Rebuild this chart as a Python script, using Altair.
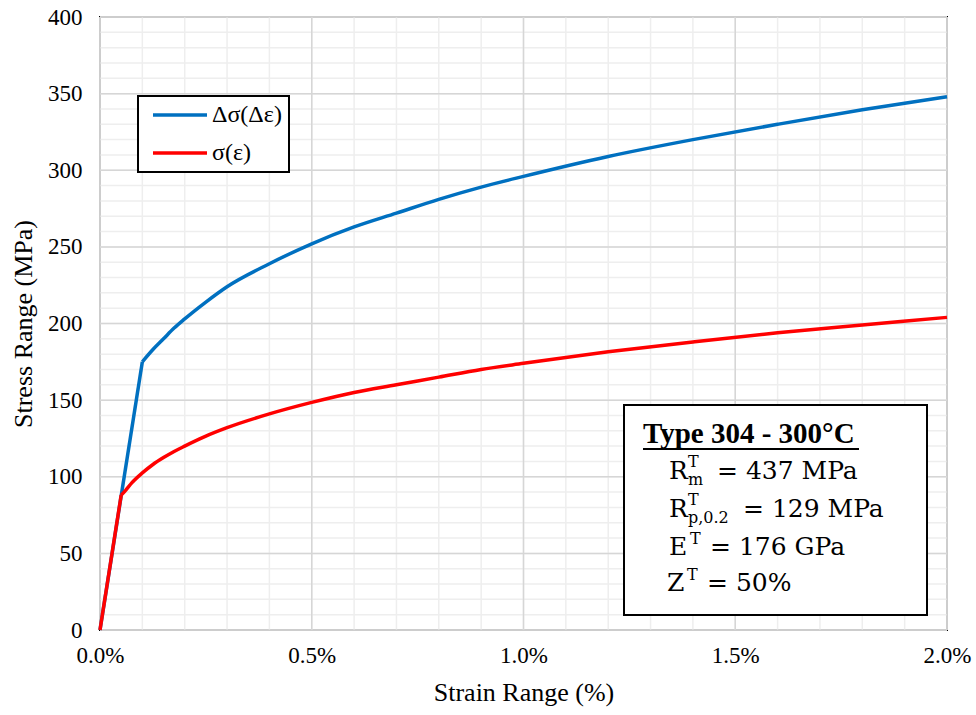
import altair as alt
import pandas as pd

# ---- data ----
series_names = ["Δσ(Δε)", "σ(ε)"]
series_colors = ["#0070c0", "#ff0000"]

# elastic (straight) part and plastic (curved) part of each curve
blue_el_strain = [0, 0.1]
blue_el_stress = [0, 175]
blue_pl_strain = [0.1, 0.125, 0.15, 0.175, 0.2, 0.25, 0.3, 0.4, 0.5, 0.6, 0.7, 0.8, 0.9,
                  1.0, 1.2, 1.4, 1.6, 1.8, 2.0]
blue_pl_stress = [175, 183, 190, 197, 203, 214, 224, 239, 252, 263, 272, 281, 289,
                  296, 309, 320, 330, 339.5, 348]

red_el_strain = [0, 0.05]
red_el_stress = [0, 88]
red_pl_strain = [0.05, 0.06, 0.075, 0.1, 0.125, 0.15, 0.175, 0.2, 0.25, 0.3, 0.4, 0.5,
                 0.6, 0.7, 0.8, 0.9, 1.0, 1.2, 1.4, 1.6, 1.8, 2.0]
red_pl_stress = [88, 91, 96, 102.5, 108, 112.5, 116.5, 120, 126.5, 132, 141, 148.5,
                 155, 160, 165, 170, 174, 181.5, 188, 194, 199, 204]

x_ticks = [0, 0.5, 1.0, 1.5, 2.0]
y_ticks = [0, 50, 100, 150, 200, 250, 300, 350, 400]
x_minor = [i / 10 for i in range(21)]
y_minor = [i * 10 for i in range(41)]


def frame(strain, stress, name, part):
    return pd.DataFrame({"strain": strain, "stress": stress, "series": name, "part": part})


df = pd.concat([
    frame(blue_el_strain, blue_el_stress, series_names[0], "el"),
    frame(blue_pl_strain, blue_pl_stress, series_names[0], "pl"),
    frame(red_el_strain, red_el_stress, series_names[1], "el"),
    frame(red_pl_strain, red_pl_stress, series_names[1], "pl"),
])

FONT = "Liberation Serif"
MATH = "DejaVu Serif"

xscale = alt.Scale(domain=[0, 2], nice=False, zero=False)
yscale = alt.Scale(domain=[0, 400], nice=False, zero=False)

x_axis = alt.Axis(values=x_ticks, title="Strain Range (%)",
                  labelExpr="format(datum.value, '.1f') + '%'",
                  labelPadding=14, titleY=70, titleBaseline="alphabetic")
y_axis = alt.Axis(values=y_ticks, title="Stress Range (MPa)",
                  labelPadding=18, titleX=-69, titleBaseline="alphabetic")

X = lambda: alt.X("strain:Q", scale=xscale, axis=x_axis)
Y = lambda: alt.Y("stress:Q", scale=yscale, axis=y_axis)

gx_minor = alt.Chart(pd.DataFrame({"strain": x_minor})).mark_rule(
    color="#eeeeee", strokeWidth=1.5).encode(x=X())
gy_minor = alt.Chart(pd.DataFrame({"stress": y_minor})).mark_rule(
    color="#eeeeee", strokeWidth=1.5).encode(y=Y())
gx_major = alt.Chart(pd.DataFrame({"strain": x_ticks})).mark_rule(
    color="#d6d6d6", strokeWidth=1.5).encode(x=X())
gy_major = alt.Chart(pd.DataFrame({"stress": y_ticks})).mark_rule(
    color="#d6d6d6", strokeWidth=1.5).encode(y=Y())

color_enc = alt.Color(
    "series:N",
    scale=alt.Scale(domain=series_names, range=series_colors),
    legend=alt.Legend(
        title=None, orient="none", legendX=38, legendY=79,
        symbolType="M-0.4,0H5", symbolSize=400, symbolStrokeWidth=3.5,
        labelFont=FONT, labelFontSize=24, labelColor="black",
        labelExpr="datum.label + '\u00a0\u00a0'",
        padding=7, rowPadding=14, labelOffset=43,
        strokeColor="black", fillColor="white",
    ),
)

base = alt.Chart(df).encode(x=X(), y=Y(), color=color_enc, order="strain:Q")


def seg(name, part):
    return base.transform_filter(
        (alt.datum.series == name) & (alt.datum.part == part)
    ).mark_line(strokeWidth=3.5, interpolate="linear" if part == "el" else "monotone")


lines = [seg(series_names[0], "el"), seg(series_names[0], "pl"),
         seg(series_names[1], "el"), seg(series_names[1], "pl")]

# annotation box
box = alt.Chart().mark_rect(fill="white", stroke="black", strokeWidth=2).encode(
    x=alt.value(524), x2=alt.value(827), y=alt.value(388), y2=alt.value(598))


def txt(s, x, y, size, font=MATH, bold=False):
    return alt.Chart().mark_text(
        text=s, align="left", baseline="alphabetic", font=font, fontSize=size,
        fontWeight="bold" if bold else "normal", color="black",
    ).encode(x=alt.value(x), y=alt.value(y))


title_txt = txt("Type 304 - 300°C", 543, 426, 29, font=FONT, bold=True)
underline = alt.Chart().mark_rule(color="black", strokeWidth=2).encode(
    x=alt.value(543), x2=alt.value(759), y=alt.value(432))

annos = [
    txt("R", 569, 462, 25), txt("T", 588, 450, 16), txt("m", 588, 468, 16),
    txt("= 437 MPa", 617, 462, 25),
    txt("R", 569, 500, 25), txt("T", 588, 488, 16), txt("p,0.2", 588, 506, 16),
    txt("= 129 MPa", 643, 500, 25),
    txt("E", 569, 538, 25), txt("T", 590, 527, 16), txt("= 176 GPa", 610, 538, 25),
    txt("Z", 567, 574, 25), txt("T", 587, 563, 16), txt("= 50%", 607, 574, 25),
]

chart = alt.layer(
    gx_minor, gy_minor, gx_major, gy_major, *lines,
    box, title_txt, underline, *annos,
).properties(
    width=847, height=613,
    autosize=alt.AutoSizeParams(type="none"),
    padding={"left": 100, "top": 17, "right": 29, "bottom": 85},
    background="white",
).configure_view(
    stroke="black", strokeWidth=2,
).configure_axis(
    domain=False, ticks=False, grid=False,
    labelFont=FONT, labelFontSize=23, labelColor="black",
    titleFont=FONT, titleFontSize=26, titleFontWeight="normal", titleColor="black",
    labelFlush=False, labelOverlap=False,
).configure_legend(
    strokeWidth=2,
)

chart.save("out.html", embed_options={"renderer": "svg", "actions": False})
